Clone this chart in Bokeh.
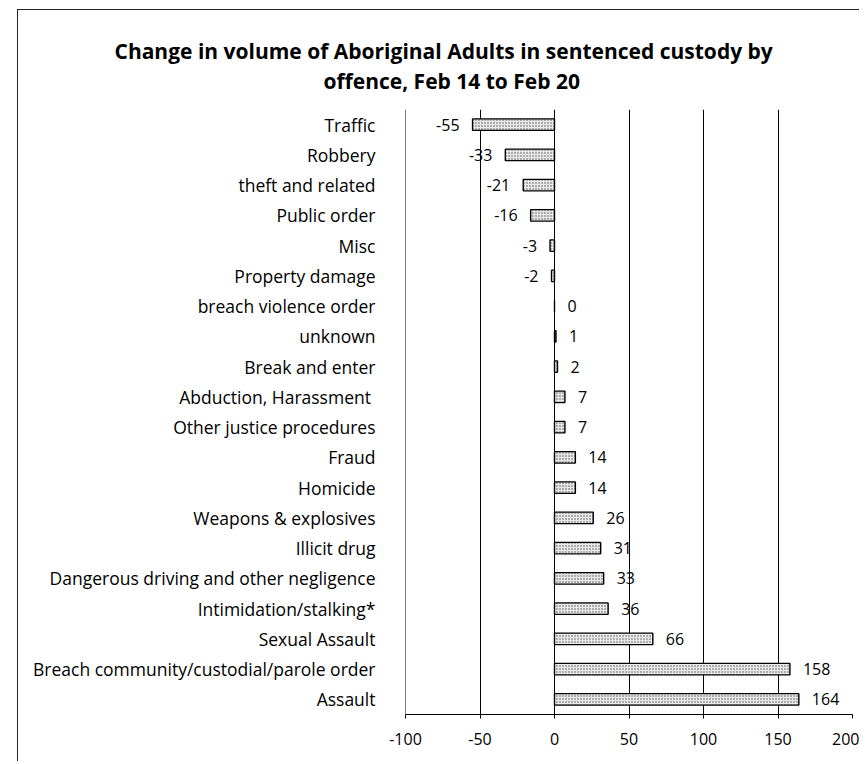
from bokeh.plotting import figure
from bokeh.models import ColumnDataSource, FactorRange, FixedTicker, Title, Span
from bokeh.core.properties import value
from bokeh.embed import file_html
from bokeh.resources import INLINE

offences = ["Traffic", "Robbery", "theft and related", "Public order", "Misc",
            "Property damage", "breach violence order", "unknown", "Break and enter",
            "Abduction, Harassment ", "Other justice procedures", "Fraud", "Homicide",
            "Weapons & explosives", "Illicit drug", "Dangerous driving and other negligence",
            "Intimidation/stalking*", "Sexual Assault",
            "Breach community/custodial/parole order", "Assault"]
change = [-55, -33, -21, -16, -3, -2, 0, 1, 2, 7, 7, 14, 14, 26, 31, 33, 36, 66, 158, 164]
x_ticks = [-100, -50, 0, 50, 100, 150, 200]
title_lines = ["Change in volume of Aboriginal Adults in sentenced custody by",
               "offence, Feb 14 to Feb 20"]

FONT = "Open Sans"

src = ColumnDataSource(dict(cat=offences, val=change))
neg = ColumnDataSource(dict(cat=[c for c, v in zip(offences, change) if v < 0],
                            val=[v for v in change if v < 0],
                            lbl=[str(v) for v in change if v < 0]))
pos = ColumnDataSource(dict(cat=[c for c, v in zip(offences, change) if v >= 0],
                            val=[v for v in change if v >= 0],
                            lbl=[str(v) for v in change if v >= 0]))

p = figure(width=842, height=752, output_backend="svg", toolbar_location=None,
           y_range=FactorRange(factors=list(reversed(offences))),
           x_range=(-100, 200))
p.min_border_left = 387
p.min_border_right = 8
p.min_border_top = 99
p.min_border_bottom = 48
p.outline_line_color = None
p.background_fill_color = "white"
p.border_fill_color = "white"
p.styles = {"border-left": "1px solid #222", "border-top": "1px solid #222",
            "margin-left": "17px", "margin-top": "9px"}

spacer = Title(text=" ", align="left", text_font=FONT, text_font_size="9px",
               standoff=0)
t_low = Title(text=title_lines[1], align="left", offset=-82, text_font=FONT,
              text_font_size="21px", text_font_style="bold", text_color="black",
              standoff=0)
t_high = Title(text=title_lines[0], align="left", offset=-291, text_font=FONT,
               text_font_size="21px", text_font_style="bold", text_color="black",
               standoff=0)
p.add_layout(spacer, "above")
p.add_layout(t_low, "above")
p.add_layout(t_high, "above")

p.hbar(y="cat", right="val", left=0, height=0.38, source=src,
       fill_color="#e8e8e8", line_color="black", line_width=1.4,
       hatch_pattern="dot", hatch_color="#555555", hatch_scale=3, hatch_weight=1)

p.text(x="val", y="cat", text="lbl", source=neg, text_align="right",
       text_baseline="middle", x_offset=-13, text_font=value(FONT),
       text_font_size="16px", text_color="black")
p.text(x="val", y="cat", text="lbl", source=pos, text_align="left",
       text_baseline="middle", x_offset=13, text_font=value(FONT),
       text_font_size="16px", text_color="black")

p.add_layout(Span(location=x_ticks[0], dimension="height", line_color="black",
                  line_width=1))

p.xaxis.ticker = FixedTicker(ticks=x_ticks)
p.xaxis.major_label_overrides = {v: str(v) for v in x_ticks}
p.xaxis.axis_line_color = "black"
p.xaxis.major_tick_line_color = "black"
p.xaxis.major_tick_out = 4
p.xaxis.major_tick_in = 0
p.xaxis.minor_tick_line_color = None
p.xaxis.major_label_text_font = FONT
p.xaxis.major_label_text_font_size = "16px"
p.xaxis.major_label_text_color = "black"
p.xaxis.major_label_standoff = 14

p.yaxis.axis_line_color = None
p.yaxis.major_tick_line_color = None
p.yaxis.minor_tick_line_color = None
p.yaxis.major_label_text_font = FONT
p.yaxis.major_label_text_font_size = "17.5px"
p.yaxis.major_label_text_color = "black"
p.yaxis.major_label_standoff = 24

p.xgrid.ticker = FixedTicker(ticks=x_ticks)
p.xgrid.grid_line_color = "black"
p.xgrid.grid_line_width = 1
p.ygrid.grid_line_color = None

open("out.html", "w").write(file_html(p, INLINE))
